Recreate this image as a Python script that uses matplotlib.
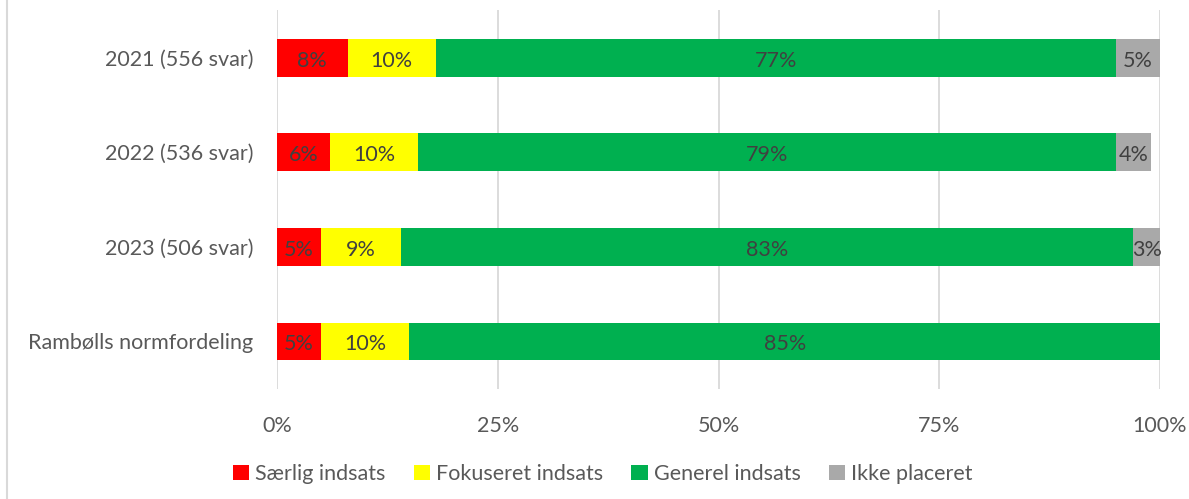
import matplotlib.pyplot as plt
from matplotlib.lines import Line2D
import numpy as np

categories = ['2021 (556 svar)', '2022 (536 svar)', '2023 (506 svar)', 'Rambølls normfordeling']
series = ['Særlig indsats', 'Fokuseret indsats', 'Generel indsats', 'Ikke placeret']
saerlig = [8, 6, 5, 5]
fokuseret = [10, 10, 9, 10]
generel = [77, 79, 83, 85]
ikke = [5, 4, 3, 0]
colors = ['#FF0000', '#FFFF00', '#00B050', '#A9A9A9']
xticks = [0, 25, 50, 75, 100]

plt.rcParams['font.family'] = ['Lato', 'DejaVu Sans']
txt = '#595959'
fs = 15.5

fig = plt.figure(figsize=(11.89, 4.99), dpi=100)
ax = fig.add_axes([0.233, 0.221, 0.7426, 0.758])

y = np.arange(len(categories))
left = np.zeros(len(categories))
for name, vals, c in zip(series, [saerlig, fokuseret, generel, ikke], colors):
    vals = np.array(vals, dtype=float)
    ax.barh(y, vals, left=left, height=0.40, color=c, label=name, zorder=3)
    for yi, l, v in zip(y, left, vals):
        if v > 0:
            ax.text(l + v / 2, yi + 0.03, f'{int(v)}%', ha='center', va='center',
                    fontsize=fs, color='#404040', zorder=4)
    left += vals

ax.set_xlim(0, 100)
ax.set_ylim(len(categories) - 0.5, -0.5)
ax.set_yticks(y)
ax.set_yticklabels(categories, fontsize=fs, color=txt)
ax.set_xticks(xticks)
ax.set_xticklabels([f'{t}%' for t in xticks], fontsize=fs, color=txt)
ax.tick_params(axis='both', length=0)
ax.tick_params(axis='x', pad=20)
ax.tick_params(axis='y', pad=17)
ax.grid(axis='x', color='#D9D9D9', linewidth=1.3, zorder=0)
for s in ax.spines.values():
    s.set_visible(False)

fig.legend(loc='center', bbox_to_anchor=(0.507, 0.05), ncol=4,
           frameon=False, fontsize=fs, handlelength=0.75, handleheight=0.75,
           handletextpad=0.3, columnspacing=1.3, labelcolor=txt)

fig.add_artist(Line2D([0.006, 0.006], [0, 1], transform=fig.transFigure,
                      color='#D9D9D9', linewidth=1.5))

fig.savefig('out.png', dpi=100)
